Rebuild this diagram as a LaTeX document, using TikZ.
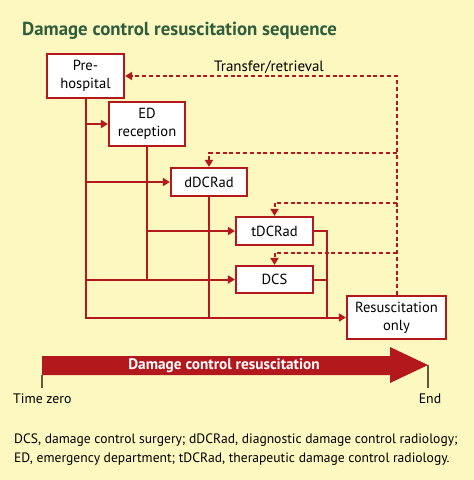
\documentclass[tikz,border=0pt]{standalone}
\usepackage{fontspec}
\setmainfont{PT Sans}
\usetikzlibrary{arrows.meta}
\definecolor{bgy}{HTML}{FDF7C0}
\definecolor{dcred}{HTML}{B3181D}
\definecolor{ttl}{HTML}{2E5E3C}
\definecolor{tick}{HTML}{5E5A3A}
\begin{document}
\begin{tikzpicture}[x=1pt,y=-1pt,
  box/.style={draw=dcred,line width=2.2pt,fill=white,inner sep=0pt,align=center,font=\fontsize{14.6}{18}\selectfont},
  conn/.style={draw=dcred,line width=2pt},
  arr/.style={conn,-{Triangle[length=7pt,width=8pt]}},
  dashline/.style={draw=dcred,line width=2pt,dash pattern=on 4pt off 2.8pt},
  darr/.style={dashline,-{Triangle[length=7pt,width=8pt]}},
  lbl/.style={font=\fontsize{13.8}{16}\selectfont,inner sep=0pt}]
\fill[bgy] (0,0) rectangle (474,480);
\useasboundingbox (0,0) rectangle (474,480);
\node[anchor=base west,inner sep=0pt,text=ttl,font=\fontsize{18.8}{20}\selectfont\bfseries] (title) at (22,35) {Damage control resuscitation sequence};
% boxes
\node[box,minimum width=77pt,minimum height=44pt] (pre) at (85.5,76) {Pre-\\hospital};
\node[box,minimum width=76pt,minimum height=44pt] (ed) at (147,124) {ED\\reception};
\node[box,minimum width=76pt,minimum height=28pt] (dd) at (209,182) {dDCRad};
\node[box,minimum width=77pt,minimum height=28pt] (td) at (274.5,231) {tDCRad};
\node[box,minimum width=77pt,minimum height=27pt] (dcs) at (274.5,279.5) {DCS};
\node[box,minimum width=99pt,minimum height=43pt] (res) at (396.5,317.5) {Resuscitation\\only};
\coordinate (j) at (327,317.5);
\coordinate (d1) at (396.5,153);
\coordinate (d2) at (396.5,203);
\coordinate (d3) at (396.5,253);
% solid connectors
\draw[arr] (pre.south) -- (pre.south |- res.west) -- (res.west);
\draw[arr] (pre.south |- ed.west) -- (ed.west);
\draw[arr] (pre.south |- dd.west) -- (dd.west);
\draw[arr] (pre.south |- dcs.west) -- (dcs.west);
\draw[conn] (ed.south) -- (ed.south |- dcs.west);
\draw[arr] (ed.south |- td.west) -- (td.west);
\draw[conn] (dd.south) -- (dd.south |- res.west);
\draw[conn] (td.east) -- (td.east -| j) -- (j);
\draw[conn] (dcs.east) -- (dcs.east -| j);
% dashed connectors
\draw[darr] (res.north) -- (res.north |- pre.east) -- (pre.east);
\draw[darr] (d1) -- (d1 -| dd.north) -- (dd.north);
\draw[darr] (d2) -- (d2 -| td.north) -- (td.north);
\draw[darr] (d3) -- (d3 -| dcs.north) -- (dcs.north);
\node[lbl,font=\fontsize{15}{16}\selectfont] (tr) at (269,67) {Transfer/retrieval};
% timeline
\fill[dcred] (42,356) -- (390,356) -- (390,347) -- (428,365) -- (390,383) -- (390,375) -- (42,375) -- cycle;
\node[text=white,font=\fontsize{15.3}{16}\selectfont\bfseries,inner sep=0pt] (dcr) at (224,365.5) {Damage control resuscitation};
\draw[tick,line width=1.2pt] (42,375) -- (42,388);
\draw[tick,line width=1.2pt] (428,365) -- (428,388);
\node[lbl,anchor=base west] (tz) at (13,403) {Time zero};
\node[lbl,anchor=base] (end) at (430,403) {End};
% footnote
\node[anchor=base west,inner sep=0pt,font=\fontsize{13.6}{18}\selectfont] (fn1) at (14,443) {DCS, damage control surgery; dDCRad, diagnostic damage control radiology;};
\node[anchor=base west,inner sep=0pt,font=\fontsize{13.6}{18}\selectfont] (fn2) at (14,462) {ED, emergency department; tDCRad, therapeutic damage control radiology.};
\end{tikzpicture}
\end{document}
